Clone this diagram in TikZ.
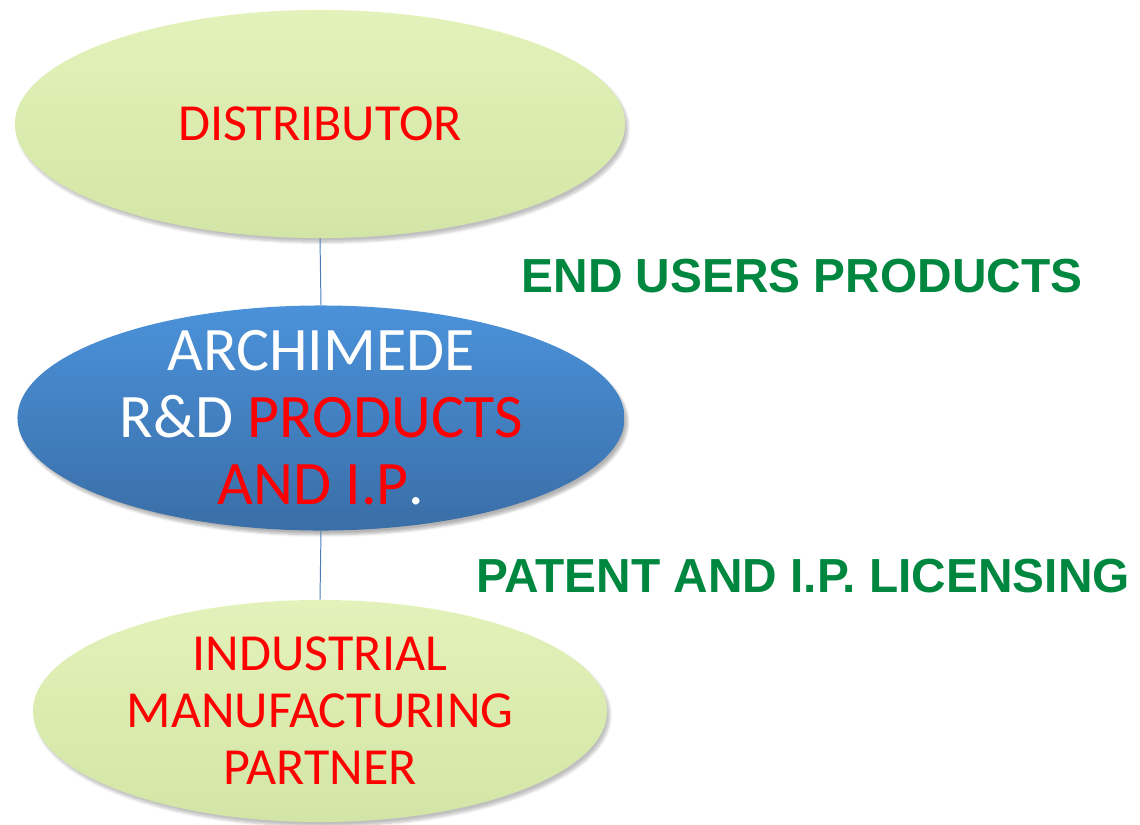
\documentclass[tikz,border=0pt]{standalone}
\usepackage{fontspec}
\setmainfont{Carlito}
\newfontfamily\arialbold[BoldFont=*]{Liberation Sans Bold}
\usetikzlibrary{shapes.geometric,shadows.blur}
\definecolor{leafgreen}{HTML}{D3E5A6}
\definecolor{leaftop}{HTML}{E3F2BA}
\definecolor{archtop}{HTML}{4B92DA}
\definecolor{archbottom}{HTML}{3A6EA7}
\definecolor{linkblue}{HTML}{4A7EBB}
\definecolor{labelgreen}{HTML}{00873F}
\definecolor{textred}{HTML}{FF0000}
\tikzset{
  partner/.style={ellipse, inner sep=0pt, top color=leaftop, bottom color=leafgreen,
    blur shadow={shadow xshift=2pt, shadow yshift=-3pt, shadow blur steps=6, shadow opacity=25},
    text=textred, align=center, font=\fontsize{37}{40.5}\selectfont},
  core/.style={ellipse, inner sep=0pt, top color=archtop, bottom color=archbottom,
    blur shadow={shadow xshift=2pt, shadow yshift=-3pt, shadow blur steps=6, shadow opacity=30}},
  coretext/.style={text=white, align=center, font=\fontsize{44}{47.6}\selectfont},
  flow/.style={font=\arialbold\fontsize{34}{37}\selectfont, text=labelgreen, anchor=base},
  link/.style={draw=linkblue, line width=0.7pt}
}
\begin{document}
\begin{tikzpicture}[x=0.025cm, y=-0.025cm]
\useasboundingbox (0,0) rectangle (1140,824);
% Draw the three ellipses
\node[partner, minimum width=15.25cm, minimum height=5.7cm] (dist) at (320,124) {DISTRIBUTOR};
\node[core, minimum width=15.175cm, minimum height=5.625cm] (arch) at (321,418) {};
\node[coretext] (archtext) at (arch.center)
  {ARCHIMEDE\\R\&D \textcolor{textred}{PRODUCTS}\\\textcolor{textred}{AND I.P}.};
\node[partner, minimum width=14.35cm, minimum height=5.55cm] (mfg) at (320,711)
  {INDUSTRIAL\\MANUFACTURING\\PARTNER};
% Connect them
\draw[link] (dist.south) -- (arch.north);
\draw[link] (arch.south) -- (mfg.north);
% Flow labels on the right
\node[flow] (enduse) at (802,292) {END USERS PRODUCTS};
\node[flow] (licence) at (803,592) {PATENT AND I.P. LICENSING};
\end{tikzpicture}
\end{document}
